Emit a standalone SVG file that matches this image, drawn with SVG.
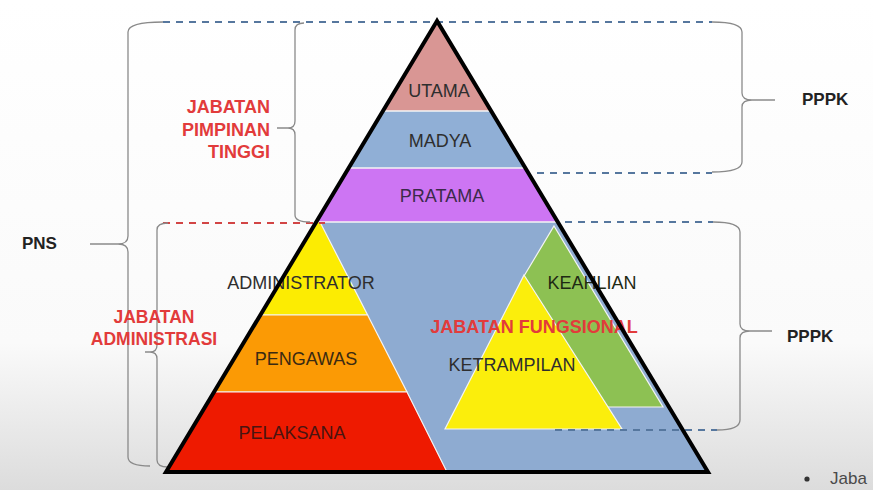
<svg xmlns="http://www.w3.org/2000/svg" width="873" height="490" viewBox="0 0 873 490">
<defs>
<linearGradient id="bg" x1="0" y1="0" x2="0" y2="1">
<stop offset="0" stop-color="#ffffff"/>
<stop offset="0.7" stop-color="#fafafa"/>
<stop offset="1" stop-color="#dcdcdc"/>
</linearGradient>
<clipPath id="tri"><polygon points="437,21 166,472 708,472"/></clipPath>
<style>
.lbl{font-family:"Liberation Sans",Arial,sans-serif;font-size:18px;fill:#2e2e2e;text-anchor:middle}
.red{font-family:"Liberation Sans",Arial,sans-serif;font-size:17.5px;font-weight:bold;fill:#e23b3b}
.side{font-family:"Liberation Sans",Arial,sans-serif;font-size:17px;font-weight:bold;fill:#222}
.brace{fill:none;stroke:#8a8a8a;stroke-width:1.3}
.dash{fill:none;stroke:#56779e;stroke-width:2;stroke-dasharray:7 6}
.dashr{fill:none;stroke:#d24545;stroke-width:2;stroke-dasharray:7 6}
.sep{stroke:#f4f4f4;stroke-width:1.5}
</style>
</defs>
<rect width="873" height="490" fill="url(#bg)"/>

<g id="pyramid" clip-path="url(#tri)">
<rect id="utama-band" x="150" y="0" width="600" height="111" fill="#d99694"/>
<rect id="madya-band" x="150" y="111" width="600" height="57" fill="#90afd6"/>
<rect id="pratama-band" x="150" y="168" width="600" height="54" fill="#cd75f3"/>
<rect id="fungsional-area" x="150" y="222" width="600" height="260" fill="#8eabd1"/>
<line class="sep" x1="150" y1="111" x2="750" y2="111"/>
<line class="sep" x1="150" y1="168" x2="750" y2="168"/>
<line class="sep" x1="150" y1="222" x2="750" y2="222"/>
<polygon id="administrator-band" points="320,222 367.6,315 150,315 150,222" fill="#fcec02" stroke="#f4f4f4" stroke-width="1.2"/>
<polygon id="pengawas-band" points="367.6,315 407,392 150,392 150,315" fill="#fb9a05" stroke="#f4f4f4" stroke-width="1.2"/>
<polygon id="pelaksana-band" points="407,392 448,474 150,474 150,392" fill="#ee1a00" stroke="#f4f4f4" stroke-width="1.2"/>
<polygon id="keahlian" points="554,226 663,407 560,407 524,276" fill="#8dc153" stroke="#f4f4f4" stroke-width="1.2"/>
<polygon id="ketrampilan" points="524,275 622,429 445,429" fill="#fbee0c" stroke="#f4f4f4" stroke-width="1.2"/>
</g>

<g id="connectors">
<path class="dash" d="M163,22 H712"/>
<path class="dash" d="M537,173 H712"/>
<path class="dash" d="M565,222 H713"/>
<path class="dash" d="M555,430 H717"/>
<path class="dashr" d="M163,223 H325"/>
<path id="brace-pns" class="brace" d="M163,22 Q128,22 128,32 L128,236 Q128,244 118,244 L90,244 M118,244 Q128,244 128,252 L128,457 Q128,466 150,466"/>
<path id="brace-jpt" class="brace" d="M304,23 Q295,23 295,30 L295,121 Q295,128 288,128 L277,128 M288,128 Q295,128 295,135 L295,215 Q295,222 310,222"/>
<path id="brace-ja" class="brace" d="M168,223 Q157,223 157,230 L157,345 Q157,352 150,352 L145,352 M150,352 Q157,352 157,359 L157,460 Q157,467 168,467"/>
<path id="brace-pppk1" class="brace" d="M712,22 Q742,22 742,32 L742,93 Q742,100 752,100 L775,100 M752,100 Q742,100 742,107 L742,162 Q742,172 712,172"/>
<path id="brace-pppk2" class="brace" d="M713,222 Q740,222 740,232 L740,324 Q740,331 750,331 L772,331 M750,331 Q740,331 740,338 L740,420 Q740,430 717,430"/>
</g>

<g id="labels">
<text class="lbl" x="439" y="97">UTAMA</text>
<text class="lbl" x="440" y="147">MADYA</text>
<text class="lbl" x="442" y="202" style="fill:#3b2a4a">PRATAMA</text>
<text class="lbl" x="301" y="289">ADMINISTRATOR</text>
<text class="lbl" x="306" y="365" style="fill:#3a2a12">PENGAWAS</text>
<text class="lbl" x="292" y="439" style="fill:#4a1410">PELAKSANA</text>
<text class="lbl" x="592" y="289" style="fill:#1f2a14">KEAHLIAN</text>
<text class="lbl" x="512" y="371">KETRAMPILAN</text>
<text class="red" x="534" y="333" text-anchor="middle" style="font-size:18px">JABATAN FUNGSIONAL</text>
<text class="red" text-anchor="end" style="font-size:18px"><tspan x="270" y="113">JABATAN</tspan><tspan x="270" y="136">PIMPINAN</tspan><tspan x="270" y="158">TINGGI</tspan></text>
<text class="red" text-anchor="middle"><tspan x="154" y="323">JABATAN</tspan><tspan x="154" y="345">ADMINISTRASI</tspan></text>
<text class="side" x="22" y="249">PNS</text>
<text class="side" x="802" y="105">PPPK</text>
<text class="side" x="787" y="342">PPPK</text>
<circle cx="807" cy="479" r="2.6" fill="#333"/>
<text x="830" y="484" style="font-family:'Liberation Sans',sans-serif;font-size:17px;fill:#4a4a4a">Jaba</text>
</g>

<g id="pyramid-outline">
<polygon points="437,21 166,472 708,472" fill="none" stroke="#000" stroke-width="4" stroke-linejoin="miter"/>
</g>
</svg>
